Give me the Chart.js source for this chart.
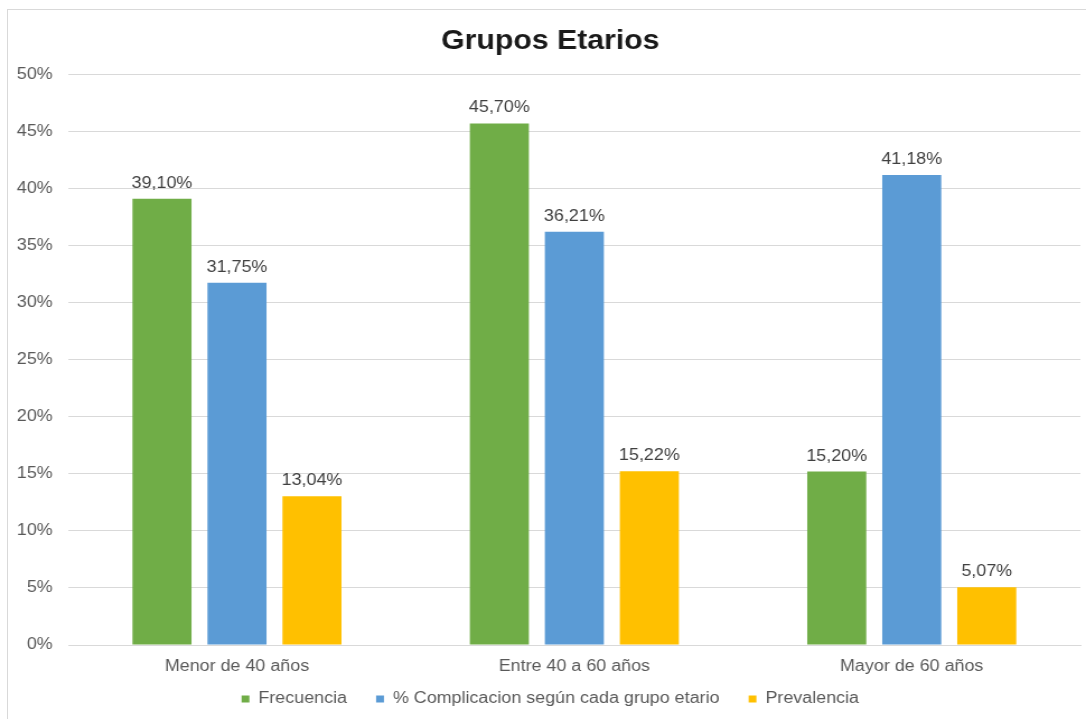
<!DOCTYPE html>
<html>
<head>
<meta charset="utf-8">
<title>Grupos Etarios</title>
<script src="https://cdn.jsdelivr.net/npm/chart.js@4/dist/chart.umd.min.js"></script>
<style>
  html, body { margin: 0; padding: 0; background: #fff; overflow: hidden; }
  #frame {
    position: absolute; left: 7px; top: 9px;
    width: 1100px; height: 720px;
    border: 1px solid #d9d9d9;
  }
  /* the chart is drawn a bit narrower and stretched sideways */
  #wrap {
    position: absolute; left: 0; top: 0;
    width: 982px; height: 719px;
    transform: scaleX(1.1196);
    transform-origin: 0 0;
  }
</style>
</head>
<body>
<div id="frame"></div>
<div id="wrap"><canvas id="chart"></canvas></div>
<script>
const categories = ['Menor de 40 años', 'Entre 40 a 60 años', 'Mayor de 60 años']
const frecuencia = [39.10, 45.70, 15.20]
const complicacion = [31.75, 36.21, 41.18]
const prevalencia = [13.04, 15.22, 5.07]

const fmt = v => v.toFixed(2).replace('.', ',') + '%'
const FONT = '"Liberation Sans", Arial, sans-serif'

// value labels above each bar, category names under the axis
// (the x scale box is kept short so the legend sits close underneath)
const barLabels = {
  id: 'barLabels',
  afterDatasetsDraw(chart) {
    const ctx = chart.ctx
    ctx.save()
    ctx.font = '16px ' + FONT
    ctx.fillStyle = '#404040'
    ctx.textAlign = 'center'
    ctx.textBaseline = 'alphabetic'
    chart.data.datasets.forEach((ds, i) => {
      chart.getDatasetMeta(i).data.forEach((bar, j) => {
        ctx.fillText(fmt(ds.data[j]), bar.x, bar.y - 11)
      })
    })

    const x = chart.scales.x
    ctx.fillStyle = '#595959'
    ctx.textBaseline = 'middle'
    chart.data.labels.forEach((label, i) => {
      ctx.fillText(label, x.getPixelForTick(i), chart.chartArea.bottom + 22)
    })
    ctx.restore()
  }
}

Chart.defaults.font.family = FONT
Chart.defaults.color = '#595959'

new Chart(document.getElementById('chart'), {
  type: 'bar',
  data: {
    labels: categories,
    datasets: [
      { label: 'Frecuencia', data: frecuencia, backgroundColor: '#70ad47' },
      { label: '% Complicacion según cada grupo etario', data: complicacion, backgroundColor: '#5b9bd5' },
      { label: 'Prevalencia', data: prevalencia, backgroundColor: '#ffc000' }
    ]
  },
  options: {
    responsive: true,
    maintainAspectRatio: false,
    animation: false,
    categoryPercentage: 0.667,
    barPercentage: 0.787,
    layout: { padding: { left: 6, right: 5, top: 9, bottom: 2 } },
    plugins: {
      title: {
        display: true,
        text: 'Grupos Etarios',
        color: '#1a1a1a',
        font: { size: 27, weight: 'bold' },
        padding: { top: 16, bottom: 17 }
      },
      legend: {
        position: 'bottom',
        labels: {
          boxWidth: 7,
          boxHeight: 7,
          padding: 26,
          font: { size: 16 },
          color: '#595959'
        }
      },
      tooltip: { enabled: false }
    },
    scales: {
      x: {
        afterFit(scale) { scale.height = 20 },
        grid: { display: false, drawTicks: false },
        border: { display: true, color: '#d9d9d9' },
        ticks: { display: false }
      },
      y: {
        min: 0,
        max: 50,
        afterFit(scale) { scale.width = 55 },
        grid: { color: '#d9d9d9', drawTicks: false },
        border: { display: false },
        ticks: {
          stepSize: 5,
          padding: 14,
          font: { size: 16 },
          color: '#595959',
          callback: v => v + '%'
        }
      },
      // empty strip on the right so title and legend sit a little right of the plot centre
      pad: {
        position: 'right',
        afterFit(scale) { scale.width = 12 },
        grid: { display: false, drawTicks: false },
        border: { display: false },
        ticks: { display: false }
      }
    }
  },
  plugins: [barLabels]
})
</script>
</body>
</html>
